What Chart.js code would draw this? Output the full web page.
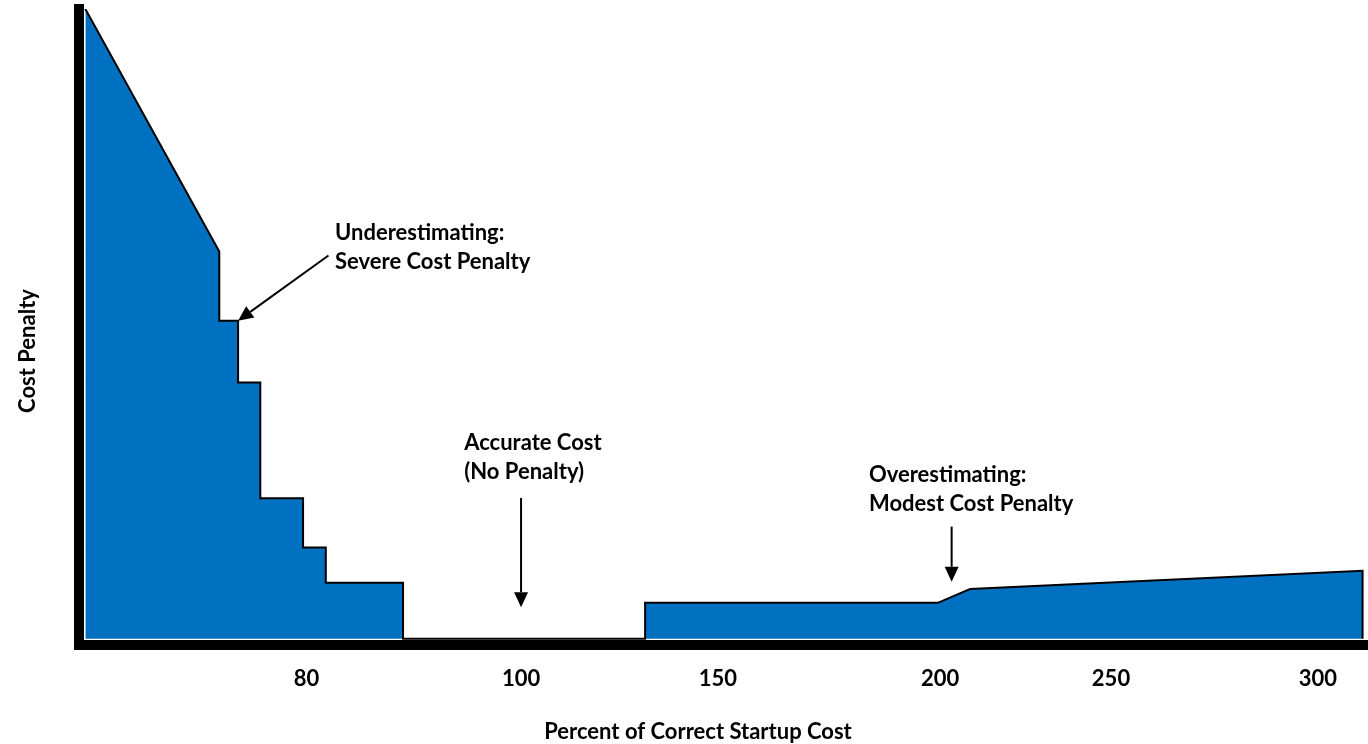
<!DOCTYPE html>
<html>
<head>
<meta charset="utf-8">
<title>Cost Penalty vs. Percent of Correct Startup Cost</title>
<script src="https://cdn.jsdelivr.net/npm/chart.js@4.4.0/dist/chart.umd.min.js"></script>
<style>
  html, body { margin: 0; padding: 0; background: #ffffff; }
  #wrap { width: 1368px; height: 744px; position: relative; }
</style>
</head>
<body>
<div id="wrap"><canvas id="chart"></canvas></div>
<script>
// Outline of the penalty curve: percent of the correct startup cost ...
const startupPercent = [60.6, 72.35, 72.35, 74.0, 74.0, 75.95, 75.95, 79.7, 79.7, 81.8, 81.8, 89.0, 89.0, 131.5, 131.5, 199.5, 208.8, 310.7, 310.7];
// ... and the relative cost penalty at each of those points
const costPenalty = [100, 61.5, 50.5, 50.5, 40.7, 40.7, 22.3, 22.3, 14.5, 14.5, 8.9, 8.9, 0, 0, 5.7, 5.7, 7.9, 10.8, 0];

// Labelled ticks on the percent axis
const tickValues = [80, 100, 150, 200, 250, 300];
const tickLabels = ['80', '100', '150', '200', '250', '300'];

// Callout notes, anchored in data units (percent, penalty)
const noteText = [
  ['Underestimating:', 'Severe Cost Penalty'],
  ['Accurate Cost', '(No Penalty)'],
  ['Overestimating:', 'Modest Cost Penalty']
];
const noteAnchor = [[82.66, 63.3], [94.7, 30.0], [184.0, 24.9]];
const arrowFrom = [[82.05, 60.85], [100, 22.35], [203.4, 17.8]];
const arrowTo = [[74.0, 50.5], [100, 5.0], [203.4, 9.05]];

// The percent axis is drawn schematically: each labelled value sits at its own
// share of the axis length, with straight interpolation between neighbours.
const axisStops = [
  { value: 60, at: 0 },
  { value: 80, at: 0.1768 },
  { value: 100, at: 0.3432 },
  { value: 150, at: 0.4959 },
  { value: 200, at: 0.6681 },
  { value: 250, at: 0.8007 },
  { value: 300, at: 0.9612 },
  { value: 312, at: 1 }
];

const LinearScale = Chart.LinearScale || Chart.registry.getScale('linear');

class SegmentedScale extends LinearScale {
  getPixelForValue(value) {
    if (value === null || value === undefined || isNaN(value)) return NaN;
    const s = axisStops;
    let i = 1;
    while (i < s.length - 1 && value > s[i].value) i++;
    const a = s[i - 1], b = s[i];
    const f = a.at + (value - a.value) / (b.value - a.value) * (b.at - a.at);
    return this.getPixelForDecimal(f);
  }
  getValueForPixel(pixel) {
    const f = this.getDecimalForPixel(pixel);
    const s = axisStops;
    let i = 1;
    while (i < s.length - 1 && f > s[i].at) i++;
    const a = s[i - 1], b = s[i];
    return a.value + (f - a.at) / (b.at - a.at) * (b.value - a.value);
  }
}
SegmentedScale.id = 'segmented';
SegmentedScale.defaults = LinearScale.defaults;
Chart.register(SegmentedScale);

const FONT = 'Lato, "Open Sans", sans-serif';
const FONT_SIZE = 22;
const boldFont = { family: FONT, weight: 'bold', size: FONT_SIZE };

function drawArrow(ctx, x1, y1, x2, y2) {
  const head = 15, half = 7;
  const ang = Math.atan2(y2 - y1, x2 - x1);
  const bx = x2 - head * Math.cos(ang), by = y2 - head * Math.sin(ang);
  ctx.beginPath();
  ctx.moveTo(x1, y1);
  ctx.lineTo(bx, by);
  ctx.lineWidth = 2;
  ctx.strokeStyle = '#000';
  ctx.stroke();
  ctx.beginPath();
  ctx.moveTo(x2, y2);
  ctx.lineTo(bx + half * Math.sin(ang), by - half * Math.cos(ang));
  ctx.lineTo(bx - half * Math.sin(ang), by + half * Math.cos(ang));
  ctx.closePath();
  ctx.fillStyle = '#000';
  ctx.fill();
}

const calloutPlugin = {
  id: 'callouts',
  afterDraw(chart) {
    const { ctx, scales: { x, y } } = chart;
    ctx.save();
    ctx.fillStyle = '#000';
    ctx.font = 'bold ' + FONT_SIZE + 'px ' + FONT;
    ctx.textBaseline = 'alphabetic';
    ctx.textAlign = 'left';
    noteText.forEach((lines, i) => {
      const px = x.getPixelForValue(noteAnchor[i][0]);
      const py = y.getPixelForValue(noteAnchor[i][1]);
      lines.forEach((line, k) => ctx.fillText(line, px, py + k * 29));
      drawArrow(ctx,
        x.getPixelForValue(arrowFrom[i][0]), y.getPixelForValue(arrowFrom[i][1]),
        x.getPixelForValue(arrowTo[i][0]), y.getPixelForValue(arrowTo[i][1]));
    });

    // Axis titles
    ctx.fillStyle = '#000';
    ctx.textAlign = 'center';
    ctx.textBaseline = 'middle';
    ctx.fillText('Percent of Correct Startup Cost', 698, 732);
    ctx.translate(28, 351);
    ctx.rotate(-Math.PI / 2);
    ctx.fillText('Cost Penalty', 0, 0);
    ctx.restore();
  }
};

new Chart(document.getElementById('chart'), {
  type: 'line',
  data: {
    datasets: [{
      label: 'Cost Penalty',
      data: startupPercent.map((p, i) => ({ x: p, y: costPenalty[i] })),
      borderColor: '#000000',
      borderWidth: 2,
      backgroundColor: '#0070C0',
      fill: 'origin',
      tension: 0,
      pointRadius: 0,
      borderJoinStyle: 'miter'
    }]
  },
  options: {
    responsive: true,
    maintainAspectRatio: false,
    animation: false,
    events: [],
    layout: { padding: { top: 9, right: 0, bottom: 0, left: 0 } },
    plugins: {
      legend: { display: false },
      tooltip: { enabled: false },
      title: { display: false }
    },
    scales: {
      x: {
        type: 'segmented',
        min: 60,
        max: 312,
        grid: { display: false, drawTicks: false },
        border: { display: true, color: '#000000', width: 10, z: 1 },
        afterBuildTicks: (scale) => { scale.ticks = tickValues.map(v => ({ value: v })); },
        afterFit: (scale) => { scale.height = 99; },
        ticks: {
          autoSkip: false,
          maxRotation: 0,
          padding: 21,
          color: '#000000',
          font: boldFont,
          callback: (v) => tickLabels[tickValues.indexOf(v)]
        }
      },
      y: {
        min: -1,
        max: 100,
        grid: { display: false, drawTicks: false },
        border: { display: true, color: '#000000', width: 10, z: 1 },
        ticks: { display: false },
        afterFit: (scale) => { scale.width = 78.5; }
      }
    }
  },
  plugins: [calloutPlugin]
});
</script>
</body>
</html>
